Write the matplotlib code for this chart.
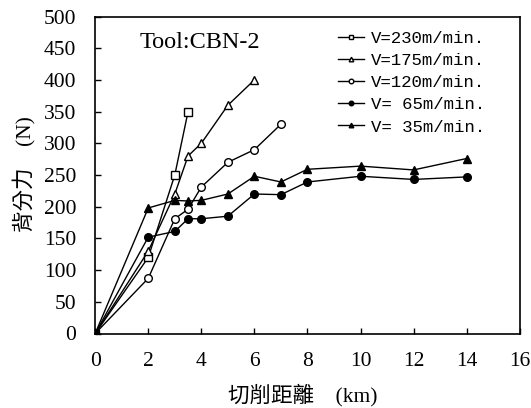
import matplotlib
matplotlib.use("Agg")
import matplotlib.pyplot as plt

x230 = [0, 2, 3, 3.5]
y230 = [0, 120, 250, 350]
x175 = [0, 2, 3, 3.5, 4, 5, 6]
y175 = [0, 130, 220, 280, 300, 360, 400]
x120 = [0, 2, 3, 3.5, 4, 5, 6, 7]
y120 = [0, 87, 181, 196, 231, 270, 290, 330]
x65 = [0, 2, 3, 3.5, 4, 5, 6, 7, 8, 10, 12, 14]
y65 = [0, 152, 161, 181, 181, 185, 220, 219, 239, 248, 243, 247]
x35 = [0, 2, 3, 3.5, 4, 5, 6, 7, 8, 10, 12, 14]
y35 = [0, 198, 210, 209, 210, 220, 248, 239, 259, 264, 258, 276]
labels = ["V=230m/min.", "V=175m/min.", "V=120m/min.", "V= 65m/min.", "V= 35m/min."]
xticks = [0, 2, 4, 6, 8, 10, 12, 14, 16]
yticks = [0, 50, 100, 150, 200, 250, 300, 350, 400, 450, 500]

serif = ["Liberation Serif", "DejaVu Serif"]
cjk = ["Liberation Serif", "Noto Sans CJK TC"]

W, H = 531, 408
fig = plt.figure(figsize=(W / 100, H / 100), dpi=100)
ax = fig.add_axes([95.2 / W, 1 - 333.5 / H, 424.5 / W, 317 / H])

kw = dict(color="black", lw=1.0, ms=5.5, mec="black")
ax.plot(x230, y230, marker="s", mfc="white", label=labels[0], **kw)
ax.plot(x175, y175, marker="^", mfc="white", label=labels[1], **kw)
ax.plot(x120, y120, marker="o", mfc="white", label=labels[2], **kw)
ax.plot(x65, y65, marker="o", mfc="black", label=labels[3], **kw)
ax.plot(x35, y35, marker="^", mfc="black", label=labels[4], **kw)

ax.set_xlim(0, 16)
ax.set_ylim(0, 500)
ax.set_xticks(xticks)
ax.set_yticks(yticks)
ax.tick_params(direction="in", length=4, labelsize=15.5, width=1)
ax.tick_params(axis="x", pad=13)
ax.tick_params(axis="y", pad=13.5)
for t in ax.get_xticklabels() + ax.get_yticklabels():
    t.set_fontfamily(serif)
for s in ax.spines.values():
    s.set_linewidth(1.2)

fig.text(303 / W, 1 - 395 / H, "切削距離　(km)", fontsize=15.5, family=cjk,
         ha="center", va="center")
fig.text(25 / W, 1 - 174 / H, "背分力　(N)", fontsize=15.5, family=cjk,
         ha="center", va="center", rotation=90)

fig.text(140 / W, 1 - 42 / H, "Tool:CBN-2", fontsize=17.5,
         family=serif, ha="left", va="center")

leg = fig.legend(handles=ax.get_lines(), labels=labels, loc="upper left",
                 bbox_to_anchor=(338 / W, 1 - 31 / H), frameon=False,
                 prop={"family": "Liberation Mono", "size": 12.5},
                 handlelength=1.5, handletextpad=0.4, markerscale=0.6,
                 labelspacing=0.4, borderpad=0, borderaxespad=0)

fig.savefig("out.png", dpi=100)
